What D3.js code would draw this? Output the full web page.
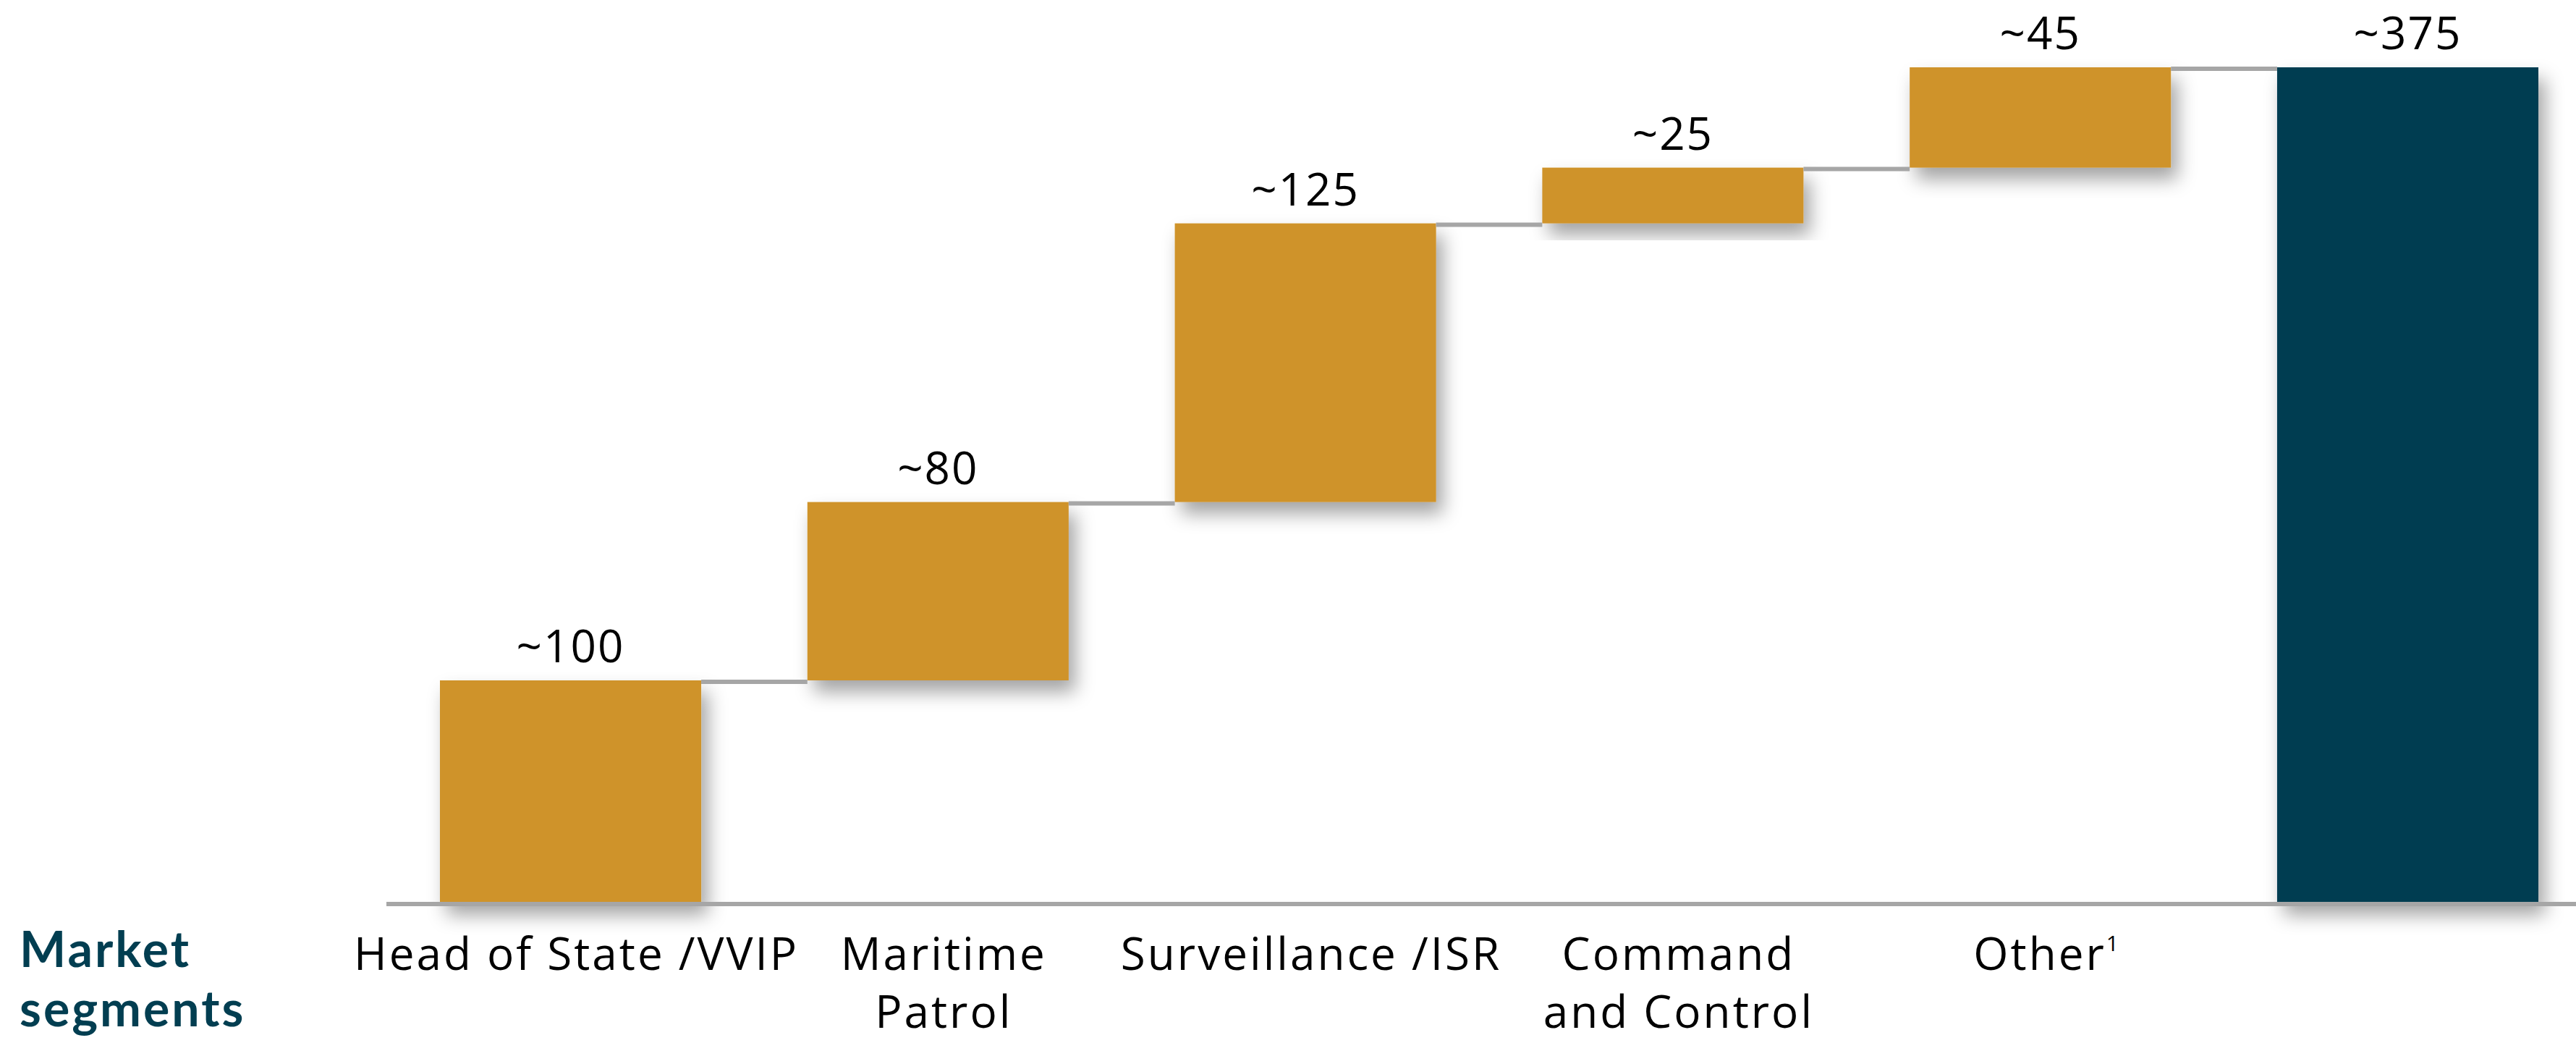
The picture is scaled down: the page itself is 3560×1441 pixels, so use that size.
<!DOCTYPE html>
<html>
<head>
<meta charset="utf-8">
<script src="https://cdn.jsdelivr.net/npm/d3@7"></script>
<style>
  html, body { margin: 0; padding: 0; background: #ffffff; }
  svg { display: block; }
</style>
</head>
<body>
<svg id="chart" width="3560" height="1441"></svg>
<script>
// Segment names (each inner array is one line of the axis label)
const segments = ["Head of State /VVIP", "Maritime Patrol", "Surveillance /ISR", "Command and Control", "Other", "Total"];
const segmentLines = [["Head of State /VVIP"], ["Maritime", "Patrol"], ["Surveillance /ISR"], ["Command", "and Control"], ["Other"], []];
const footnoteMarks = ["", "", "", "", "1", ""];
// Segment contributions and the resulting total
const increments = [100, 80, 125, 25, 45];
const total = 375;
const valuePrefix = "~";
const axisTitle = ["Market", "segments"];

const W = 3560, H = 1441;
const gold = "#CF932B", navy = "#023E51", rule = "#A6A6A6";
const font = "'Open Sans', 'Liberation Sans', sans-serif";

const svg = d3.select("#chart");

// Soft drop shadow under the bars
const defs = svg.append("defs");
const f = defs.append("filter").attr("id", "shadow")
  .attr("x", "-20%").attr("y", "-20%").attr("width", "150%").attr("height", "150%");
f.append("feDropShadow").attr("dx", 9).attr("dy", 16).attr("stdDeviation", 13)
  .attr("flood-color", "#000").attr("flood-opacity", 0.36);

const x = d3.scaleBand().domain(segments).range([608, 3508]).paddingInner(0.289).paddingOuter(0);
const y = d3.scaleLinear().domain([0, total]).range([1248, 93]);

// Build waterfall steps
let running = 0;
const steps = increments.map((v, i) => {
  const s = { key: segments[i], start: running, end: running + v, value: v, total: false };
  running += v;
  return s;
});
steps.push({ key: segments[5], start: 0, end: total, value: total, total: true });

// Bars
svg.append("g").selectAll("rect").data(steps).join("rect")
  .attr("x", d => x(d.key))
  .attr("width", x.bandwidth())
  .attr("y", d => y(d.end))
  .attr("height", d => y(d.start) - y(d.end))
  .attr("fill", d => d.total ? navy : gold)
  .attr("filter", "url(#shadow)");

// Connectors between consecutive bars
const links = steps.slice(0, -1).map((d, i) => ({ from: d, to: steps[i + 1] }));
svg.append("g").selectAll("line").data(links).join("line")
  .attr("x1", d => x(d.from.key) + x.bandwidth())
  .attr("x2", d => x(d.to.key))
  .attr("y1", d => y(d.from.end) + 2)
  .attr("y2", d => y(d.from.end) + 2)
  .attr("stroke", rule).attr("stroke-width", 6);

// Baseline
svg.append("line")
  .attr("x1", 534).attr("x2", W)
  .attr("y1", y(0) + 1).attr("y2", y(0) + 1)
  .attr("stroke", rule).attr("stroke-width", 6);

// Value labels above bars
svg.append("g").selectAll("text").data(steps).join("text")
  .attr("x", d => x(d.key) + x.bandwidth() / 2)
  .attr("y", d => y(d.end) - 25)
  .attr("text-anchor", "middle")
  .attr("font-family", font).attr("font-size", 62).attr("letter-spacing", 2).attr("fill", "#000")
  .text(d => valuePrefix + d.value);

// Segment labels under the axis
const lab = svg.append("g").selectAll("text").data(segments).join("text")
  .attr("text-anchor", "middle")
  .attr("font-family", font).attr("font-size", 62).attr("fill", "#000")
  .attr("letter-spacing", 3)
  .attr("transform", d => `translate(${x(d) + x.bandwidth() / 2 + 8},1340)`);
lab.each(function (d, i) {
  const t = d3.select(this);
  segmentLines[i].forEach((line, j) => {
    t.append("tspan").attr("x", 0).attr("dy", j === 0 ? 0 : 80).text(line);
    if (footnoteMarks[i] && j === segmentLines[i].length - 1) {
      t.append("tspan").attr("font-size", 30).attr("letter-spacing", 0).attr("dy", -26).text(footnoteMarks[i]);
    }
  });
});

// Axis title
svg.append("text")
  .attr("x", 27).attr("y", 1336)
  .attr("font-family", "Lato, 'Open Sans', sans-serif").attr("font-size", 68).attr("font-weight", 700)
  .attr("letter-spacing", 3).attr("fill", navy)
  .selectAll("tspan").data(axisTitle).join("tspan")
  .attr("x", 27).attr("dy", (d, i) => i === 0 ? 0 : 82)
  .text(d => d);
</script>
</body>
</html>
